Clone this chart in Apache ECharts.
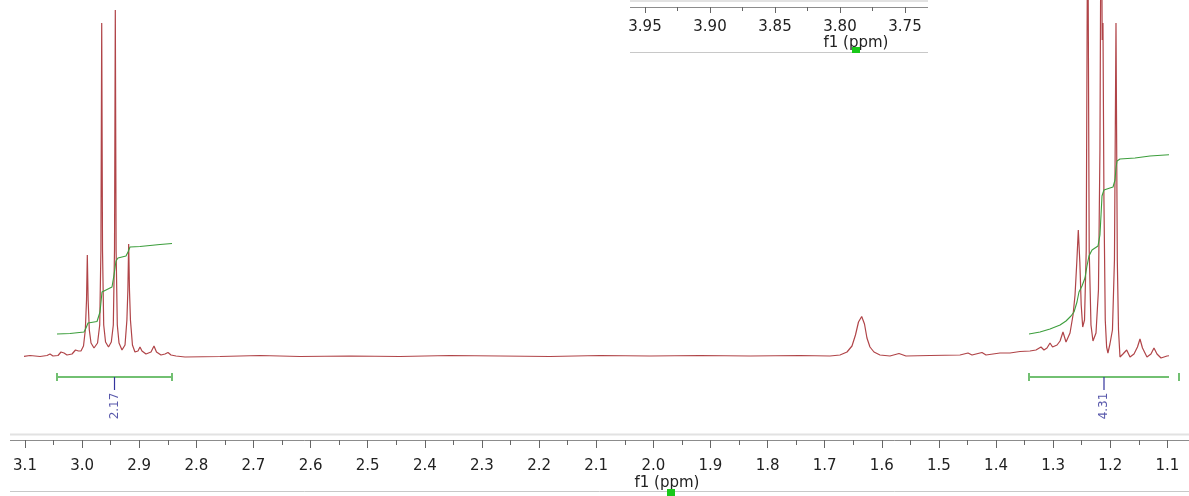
<!DOCTYPE html>
<html>
<head>
<meta charset="utf-8">
<script src="https://cdn.jsdelivr.net/npm/echarts@6/dist/echarts.min.js"></script>
<style>
  html, body { margin: 0; padding: 0; background: #ffffff; }
  #chart { width: 1189px; height: 496px; }
</style>
</head>
<body>
<div id="chart"></div>
<script>
// ---- Data (ppm, intensity) ----
const baselineLeft = [
  [3.1263, 0], [3.1088, -1], [3.0912, 0.5], [3.0737, -0.5], [3.0615, 0.5], [3.0562, 2],
  [3.0510, 0], [3.0422, 0.5], [3.0370, 4], [3.0343, 6], [3.0317, 3], [3.0265, 1],
  [3.0177, 2], [3.0116, 6], [3.0090, 8], [3.0064, 5], [3.0020, 5]
];
const multipletA = [
  [2.9976, 10], [2.9944, 26], [2.9923, 56], [2.9909, 101], [2.9895, 56], [2.9874, 26],
  [2.9844, 13], [2.9792, 8], [2.9730, 13], [2.9692, 31], [2.9671, 106], [2.9657, 333],
  [2.9643, 106], [2.9622, 31], [2.9590, 14], [2.9538, 9], [2.9489, 14], [2.9454, 31],
  [2.9433, 106], [2.9419, 346], [2.9405, 106], [2.9384, 31], [2.9354, 13], [2.9302, 6],
  [2.9249, 11], [2.9216, 36], [2.9199, 66], [2.9185, 112], [2.9171, 66], [2.9154, 36],
  [2.9119, 11], [2.9075, 4], [2.9022, 5], [2.8987, 9], [2.8952, 5], [2.8882, 2],
  [2.8794, 4], [2.8742, 10], [2.8698, 4], [2.8619, 1], [2.8549, 2], [2.8497, 3.5],
  [2.8444, 1], [2.8356, 0]
];
const baselineMid = [
  [2.8199, -1], [2.7586, -0.5], [2.6886, 0.5], [2.6186, -0.5], [2.5310, 0], [2.4435, -0.5],
  [2.3560, 0.5], [2.2684, 0], [2.1809, -0.5], [2.0933, 0.5], [2.0058, 0], [1.9183, 0.5],
  [1.8307, 0], [1.7432, 0.5], [1.6907, 0], [1.6732, 1]
];
const peakB = [
  [1.6609, 4], [1.6522, 10], [1.6461, 21], [1.6408, 34], [1.6352, 39.5], [1.6303, 32],
  [1.6260, 18], [1.6207, 9], [1.6137, 4], [1.6032, 1], [1.5857, 0], [1.5699, 2.5],
  [1.5577, 0], [1.5157, 0.5], [1.4631, 1], [1.4491, 3], [1.4421, 1], [1.4246, 3.5],
  [1.4176, 1], [1.3931, 3], [1.3756, 3], [1.3581, 4.5]
];
const multipletC = [
  [1.3406, 5], [1.3301, 6], [1.3213, 9], [1.3161, 6], [1.3108, 8], [1.3055, 13],
  [1.3011, 9], [1.2932, 11], [1.2879, 15], [1.2828, 24], [1.2775, 14], [1.2705, 23],
  [1.2652, 41], [1.2617, 61], [1.2586, 94], [1.2560, 126], [1.2533, 94], [1.2509, 51],
  [1.2483, 29], [1.2451, 36], [1.2421, 106], [1.2395, 480], [1.2369, 106], [1.2338, 31],
  [1.2303, 15], [1.2250, 23], [1.2207, 66], [1.2181, 206], [1.2158, 520], [1.2142, 316],
  [1.2128, 333], [1.2111, 156], [1.2088, 36], [1.2064, 9], [1.2041, 3], [1.2006, 12],
  [1.1962, 26], [1.1927, 96], [1.1900, 333], [1.1877, 96], [1.1856, 26], [1.1830, -1]
];
const baselineRight = [
  [1.1778, 2], [1.1713, 6], [1.1655, -1], [1.1585, 2], [1.1524, 9], [1.1480, 17],
  [1.1436, 8], [1.1358, -1], [1.1288, 2], [1.1235, 8], [1.1182, 2], [1.1112, -2],
  [1.1007, 0], [1.0867, 1], [1.0744, 0], [1.0622, 1]
];
const integralCurveA = [
  [3.0440, 22], [3.0212, 22.5], [2.9967, 24], [2.9932, 28], [2.9897, 33], [2.9739, 34.5],
  [2.9687, 44], [2.9652, 64], [2.9617, 66], [2.9477, 69], [2.9442, 81], [2.9407, 95],
  [2.9372, 98], [2.9232, 100], [2.9197, 104], [2.9162, 109], [2.8987, 109.5],
  [2.8812, 110.5], [2.8637, 111.5], [2.8426, 112.5]
];
const integralCurveC = [
  [1.3423, 22], [1.3230, 24], [1.3055, 27], [1.2879, 31], [1.2775, 35], [1.2688, 40],
  [1.2635, 44], [1.2583, 54], [1.2548, 64], [1.2495, 70], [1.2443, 78], [1.2408, 90],
  [1.2373, 100], [1.2320, 106], [1.2215, 110], [1.2181, 121], [1.2162, 141], [1.2145, 160],
  [1.2111, 166], [1.2006, 168], [1.1952, 169], [1.1917, 176], [1.1900, 188], [1.1882, 195],
  [1.1830, 197], [1.1567, 198], [1.1305, 200], [1.1042, 201], [1.0797, 202]
];
const integralRanges = [[3.0440, 2.8426], [1.3423, 1.0797]];
const integralLabels = ['2.17', '4.31'];
const axisTitle = 'f1 (ppm)';
const mainAxisRange = [1.1, 3.1];
const insetAxisRange = [3.75, 3.95];

// ---- Chart ----
const spectrum = [].concat(baselineLeft, multipletA, baselineMid, peakB, multipletC, baselineRight);
const FONT = 'DejaVu Sans';
const barLevel = -21, tickEnd = -34, labelLevel = -50;

const series = [
  {
    type: 'line', xAxisIndex: 0, yAxisIndex: 0, data: spectrum, showSymbol: false,
    clip: false, lineStyle: { color: '#b04448', width: 1.2 }, z: 3
  },
  {
    type: 'line', xAxisIndex: 0, yAxisIndex: 0, data: integralCurveA, showSymbol: false,
    clip: false, lineStyle: { color: '#3c9e3c', width: 1.1 }, z: 4
  },
  {
    type: 'line', xAxisIndex: 0, yAxisIndex: 0, data: integralCurveC, showSymbol: false,
    clip: false, lineStyle: { color: '#3c9e3c', width: 1.1 }, z: 4
  }
];
integralRanges.forEach(function (r, i) {
  const c = (r[0] + r[1]) / 2;
  series.push({
    type: 'line', xAxisIndex: 0, yAxisIndex: 0, clip: false,
    data: [[r[0], barLevel], [r[1], barLevel]],
    symbol: 'rect', symbolSize: [2, 8], showSymbol: true,
    itemStyle: { color: '#72c072' }, lineStyle: { color: '#72c072', width: 2 }, z: 4
  });
  series.push({
    type: 'line', xAxisIndex: 0, yAxisIndex: 0, clip: false, showSymbol: false,
    data: [[c, barLevel], [c, tickEnd]],
    lineStyle: { color: '#34349e', width: 1.2 }, z: 5
  });
  series.push({
    type: 'scatter', xAxisIndex: 0, yAxisIndex: 0, clip: false,
    data: [[c, labelLevel]], symbolSize: 0,
    label: {
      show: true, position: 'inside', rotate: 90, formatter: integralLabels[i],
      color: '#2e2e96', fontSize: 12, fontFamily: FONT
    }, z: 5
  });
});
series.push({ type: 'line', xAxisIndex: 1, yAxisIndex: 1, data: [], showSymbol: false });

const chart = echarts.init(document.getElementById('chart'), null, { renderer: 'canvas' });
chart.setOption({
  animation: false,
  backgroundColor: '#ffffff',
  grid: [
    { left: 25, width: 1142.4, top: 0, height: 440 },
    { left: 645, width: 260, top: 7, height: 40 }
  ],
  xAxis: [
    {
      type: 'value', gridIndex: 0, inverse: true, position: 'bottom',
      min: mainAxisRange[0], max: mainAxisRange[1], interval: 0.1,
      axisLine: { show: false, onZero: false },
      axisTick: { show: true, inside: false, length: 8, lineStyle: { color: '#666', width: 1 } },
      minorTick: { show: true, splitNumber: 2, length: 5, lineStyle: { color: '#666', width: 1 } },
      splitLine: { show: false },
      axisLabel: {
        inside: false, margin: 19, fontSize: 15, fontFamily: FONT, color: '#222',
        formatter: function (v) { return v.toFixed(1); }
      }
    },
    {
      type: 'value', gridIndex: 1, inverse: true, position: 'top',
      min: insetAxisRange[0], max: insetAxisRange[1], interval: 0.05,
      axisLine: { show: false, onZero: false },
      axisTick: { show: true, inside: true, length: 6, lineStyle: { color: '#666', width: 1 } },
      minorTick: { show: true, splitNumber: 2, length: 4, lineStyle: { color: '#666', width: 1 } },
      splitLine: { show: false },
      axisLabel: {
        inside: true, margin: 13, fontSize: 15, fontFamily: FONT, color: '#222',
        formatter: function (v) { return v.toFixed(2); }
      }
    }
  ],
  yAxis: [
    { type: 'value', gridIndex: 0, min: -84, max: 356, show: false },
    { type: 'value', gridIndex: 1, min: 0, max: 1, show: false }
  ],
  graphic: [
    { type: 'line', shape: { x1: 10, y1: 434.5, x2: 1189, y2: 434.5 }, style: { stroke: '#e2e2e2', lineWidth: 2 } },
    { type: 'line', shape: { x1: 10, y1: 440.5, x2: 1189, y2: 440.5 }, style: { stroke: '#8c8c8c', lineWidth: 1 } },
    { type: 'line', shape: { x1: 10, y1: 491.5, x2: 1189, y2: 491.5 }, style: { stroke: '#c8c8c8', lineWidth: 1 } },
    { type: 'text', x: 667, y: 483, style: { text: axisTitle, fontSize: 15, fontFamily: FONT, fill: '#222', textAlign: 'center', textVerticalAlign: 'middle' } },
    { type: 'rect', shape: { x: 667, y: 489, width: 8, height: 7 }, style: { fill: '#19c819' }, z: 10 },
    { type: 'line', shape: { x1: 630, y1: 1, x2: 928, y2: 1 }, style: { stroke: '#e2e2e2', lineWidth: 2 } },
    { type: 'line', shape: { x1: 630, y1: 7.5, x2: 928, y2: 7.5 }, style: { stroke: '#8c8c8c', lineWidth: 1 } },
    { type: 'line', shape: { x1: 630, y1: 52.5, x2: 928, y2: 52.5 }, style: { stroke: '#c8c8c8', lineWidth: 1 } },
    { type: 'text', x: 856, y: 43, style: { text: axisTitle, fontSize: 15, fontFamily: FONT, fill: '#222', textAlign: 'center', textVerticalAlign: 'middle' } },
    { type: 'rect', shape: { x: 852, y: 47, width: 8, height: 6 }, style: { fill: '#19c819' }, z: 10 }
  ],
  series: series
});
</script>
</body>
</html>
